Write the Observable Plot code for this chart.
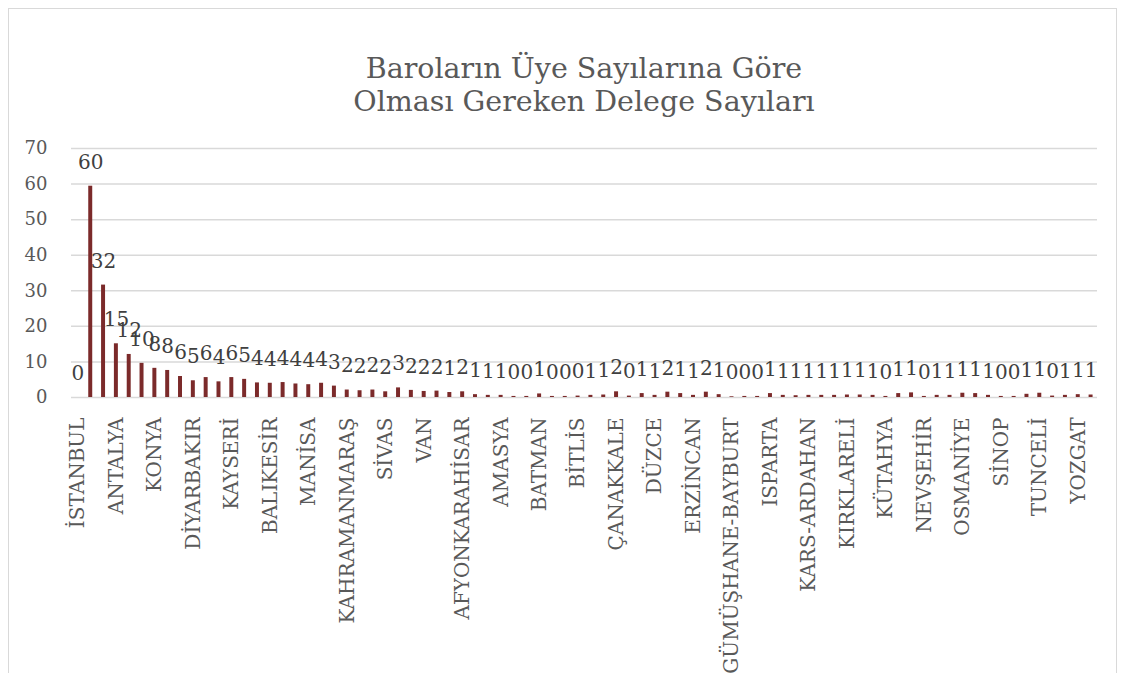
<!DOCTYPE html>
<html>
<head>
<meta charset="utf-8">
<script src="https://cdn.jsdelivr.net/npm/d3@7"></script>
<script src="https://cdn.jsdelivr.net/npm/@observablehq/plot@0.6"></script>
<style>
  html, body { margin: 0; padding: 0; background: #fff; overflow: hidden; }
  #wrap { position: relative; width: 1123px; height: 673px; }
  #frame { position: absolute; left: 8px; top: 8px; width: 1107px; height: 700px; border: 1px solid #d9d9d9; pointer-events: none; }
  #title { height: 119px; box-sizing: border-box; padding-top: 52px; padding-left: 71px; width: 1097px;
           text-align: center; font-family: "DejaVu Serif", serif; font-size: 28.5px; line-height: 33px; color: #595959; }
  #chart svg { display: block; }
</style>
</head>
<body>
<div id="wrap">
  <div id="frame"></div>
  <div id="title">Baroların Üye Sayılarına Göre<br>Olması Gereken Delege Sayıları</div>
  <div id="chart"></div>
</div>
<script>
// Categories (bars), in chart order
const baroNames = [
  "İSTANBUL","ANKARA","İZMİR","ANTALYA","BURSA","ADANA","KONYA","MERSİN","KOCAELİ","DİYARBAKIR",
  "GAZİANTEP","SAMSUN","KAYSERİ","HATAY","ESKİŞEHİR","BALIKESİR","DENİZLİ","AYDIN","MANİSA","MUĞLA",
  "ŞANLIURFA","KAHRAMANMARAŞ","TEKİRDAĞ","SAKARYA","SİVAS","TRABZON","MALATYA","VAN","ZONGULDAK","ADIYAMAN",
  "AFYONKARAHİSAR","AĞRI","AKSARAY","AMASYA","ARTVİN","BARTIN","BATMAN","BİLECİK","BİNGÖL","BİTLİS",
  "BOLU","BURDUR","ÇANAKKALE","ÇANKIRI","ÇORUM","DÜZCE","EDİRNE","ELAZIĞ","ERZİNCAN","ERZURUM",
  "GİRESUN","GÜMÜŞHANE-BAYBURT","HAKKARİ","IĞDIR","ISPARTA","KARABÜK","KARAMAN","KARS-ARDAHAN","KASTAMONU","KIRIKKALE",
  "KIRKLARELİ","KIRŞEHİR","KİLİS","KÜTAHYA","MARDİN","MUŞ","NEVŞEHİR","NİĞDE","ORDU","OSMANİYE",
  "RİZE","SİİRT","SİNOP","ŞIRNAK","TOKAT","TUNCELİ","UŞAK","YALOVA","YOZGAT",""
];
// Bar heights (delegate counts, unrounded)
const delegeValues = [
  0, 59.4, 31.6, 15.1, 12.1, 9.6, 8.2, 7.6, 5.9, 4.7,
  5.6, 4.4, 5.6, 5.1, 4.1, 4.0, 4.2, 3.8, 3.6, 4.0,
  3.2, 2.1, 1.9, 2.1, 1.6, 2.7, 2.0, 1.7, 1.8, 1.4,
  1.6, 0.8, 0.6, 0.6, 0.3, 0.3, 1.0, 0.3, 0.3, 0.4,
  0.6, 0.7, 1.6, 0.4, 1.1, 0.6, 1.5, 1.1, 0.6, 1.5,
  0.8, 0.2, 0.3, 0.3, 1.1, 0.6, 0.5, 0.6, 0.6, 0.6,
  0.7, 0.7, 0.6, 0.3, 1.1, 1.3, 0.3, 0.6, 0.6, 1.2,
  1.1, 0.6, 0.3, 0.3, 0.9, 1.2, 0.4, 0.6, 0.8, 0.7
];
// Data labels as shown on the chart (rounded)
const delegeLabels = [
  0,60,32,15,12,10,8,8,6,5,
  6,4,6,5,4,4,4,4,4,4,
  3,2,2,2,2,3,2,2,2,1,
  2,1,1,1,0,0,1,0,0,0,
  1,1,2,0,1,1,2,1,1,2,
  1,0,0,0,1,1,1,1,1,1,
  1,1,1,0,1,1,0,1,1,1,
  1,1,0,0,1,1,0,1,1,1
];
// Category tick labels shown on the x axis
const xTickLabels = [
  "İSTANBUL","ANTALYA","KONYA","DİYARBAKIR","KAYSERİ","BALIKESİR","MANİSA","KAHRAMANMARAŞ","SİVAS","VAN",
  "AFYONKARAHİSAR","AMASYA","BATMAN","BİTLİS","ÇANAKKALE","DÜZCE","ERZİNCAN","GÜMÜŞHANE-BAYBURT","ISPARTA",
  "KARS-ARDAHAN","KIRKLARELİ","KÜTAHYA","NEVŞEHİR","OSMANİYE","SİNOP","TUNCELİ","YOZGAT"
];
const yTicks = [0, 10, 20, 30, 40, 50, 60, 70];

const data = baroNames.map((name, i) => ({name, value: delegeValues[i], label: String(delegeLabels[i])}));

const chart = Plot.plot({
  width: 1123,
  height: 554,
  marginLeft: 71,
  marginRight: 26,
  marginTop: 29,
  marginBottom: 276,
  style: {fontFamily: "'DejaVu Serif', serif", background: "transparent"},
  x: {domain: baroNames, paddingInner: 0.69, paddingOuter: 0.345, label: null},
  y: {domain: [0, 70], label: null},
  marks: [
    Plot.ruleY(yTicks, {stroke: "#d9d9d9", strokeWidth: 1.5}),
    Plot.barY(data, {x: "name", y: "value", fill: "#7b2a2a"}),
    Plot.text(data, {x: "name", y: "value", text: "label", dy: -24, fontSize: 20, fill: "#404040"}),
    Plot.axisY(yTicks, {tickSize: 0, tickPadding: 24, fontSize: 18, color: "#595959", label: null}),
    Plot.axisX(xTickLabels, {tickSize: 0, tickPadding: 20, tickRotate: -90, fontSize: 20, color: "#595959", label: null})
  ]
});
document.getElementById("chart").appendChild(chart);
</script>
</body>
</html>
